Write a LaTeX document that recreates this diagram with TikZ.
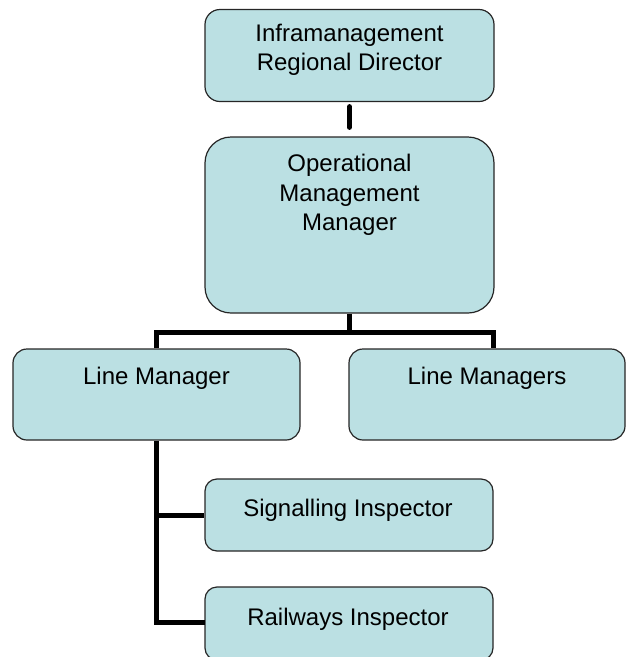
\documentclass[tikz,border=0pt]{standalone}
\usepackage{fontspec}
\setmainfont{Liberation Sans}
\usetikzlibrary{calc}
\definecolor{boxfill}{RGB}{187,224,227}
\begin{document}
\begin{tikzpicture}[x=1pt,y=-1pt,
  orgbox/.style={draw=black!85, line width=1.2pt, fill=boxfill, rounded corners=#1, inner sep=0pt},
  orgbox/.default=14pt,
  txt/.style={font=\fontsize{24}{29.5}\selectfont, align=center, inner sep=0pt},
  conn/.style={draw=black, line width=5pt, line join=miter}]
\useasboundingbox (0,0) rectangle (625,657);
% boxes
\node[orgbox=15pt, minimum width=289pt, minimum height=92pt] (top) at (349.5,55.5) {};
\node[orgbox=26pt, minimum width=289pt, minimum height=176pt] (op) at (349.5,225) {};
\node[orgbox, minimum width=287pt, minimum height=91pt] (lm) at (156.5,394.5) {};
\node[orgbox, minimum width=276pt, minimum height=91pt] (lms) at (487,394.5) {};
\node[orgbox=12pt, minimum width=288pt, minimum height=72pt] (si) at (349,515) {};
\node[orgbox=12pt, minimum width=288pt, minimum height=73pt] (ri) at (349,623.5) {};
% texts
\node[txt] (toptxt) at (349.5,50) {Inframanagement\\Regional Director};
\node[txt] (optxt) at (349.5,195) {Operational\\Management\\Manager};
\node[txt] (lmtxt) at (156.5,378.5) {Line Manager};
\node[txt] (lmstxt) at (487,378.5) {Line Managers};
\node[txt] (sitxt) at (348,510.5) {Signalling Inspector};
\node[txt] (ritxt) at (348,619.5) {Railways Inspector};
% connectors
\coordinate (bus) at (0,332);
\coordinate (rb) at (493,332);
\coordinate (rj) at (205,622);
\draw[conn, line cap=round, shorten <=4.5pt, shorten >=9pt] (top.south) -- (op.north);
\draw[conn] (op.south) -- (op.south |- bus);
\draw[conn] (lm.north) -- (lm.north |- bus) -- (rb) -- (rb |- lms.north);
\draw[conn] (lm.south) -- (lm.south |- rj) -- (rj);
\draw[conn] (lm.south |- si.west) -- (si.west);
\end{tikzpicture}
\end{document}
